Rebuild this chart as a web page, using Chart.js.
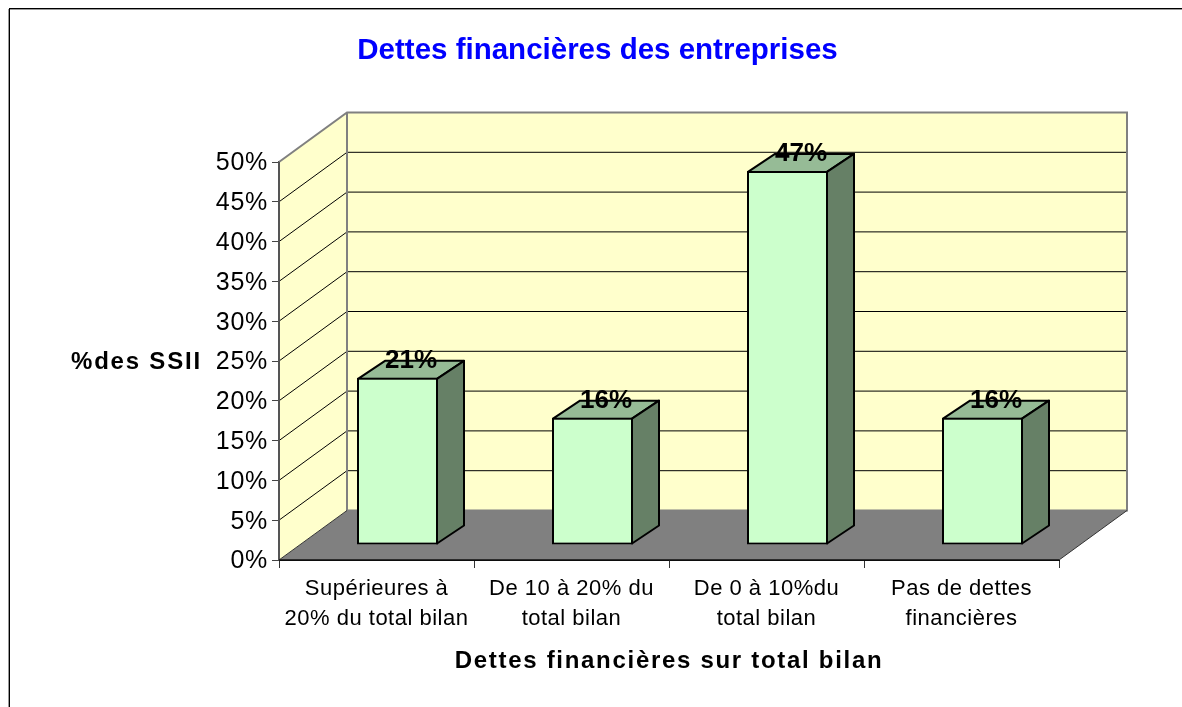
<!DOCTYPE html>
<html><head><meta charset="utf-8">
<script src="https://cdn.jsdelivr.net/npm/chart.js@4/dist/chart.umd.min.js"></script>
<style>html,body{margin:0;padding:0;background:#fff;overflow:hidden}canvas{display:block}</style>
</head><body><canvas id="c" width="1182" height="707"></canvas>
<script>
const categories=[["Supérieures à","20% du total bilan"],["De 10 à 20% du","total bilan"],["De 0 à 10%du","total bilan"],["Pas de dettes","financières"]];
const values=[21,16,47,16];
const yTicks=[0,5,10,15,20,25,30,35,40,45,50];
const titleText="Dettes financières des entreprises";
const xTitle="Dettes financières sur total bilan";
const yTitle="%des SSII";
const FF='"Liberation Sans",Arial,sans-serif';
const WALL_D=[68,-49.5], BAR_OFF=[21,-15], BAR_D=[27,-18];
const spaced=(s,name,sp,dy=0)=>{const f=s[name];s[name]=function(...a){const c=this.ctx;c.save();c.translate(0,dy);c.letterSpacing=sp;f.apply(this,a);c.letterSpacing='0px';c.restore();};};
const scene={id:'scene',
 afterLayout(ch){ch.titleBlock.left+=68;ch.titleBlock.right+=68;},
 beforeDraw(ch){
  const {x,y}=ch.scales;
  if(!x._sp){x._sp=true;spaced(x,'drawLabels','0.5px');spaced(x,'drawTitle','1.7px');spaced(y,'drawLabels','0.7px',1.5);}
 },
 beforeDatasetsDraw(ch){
  const {ctx,chartArea:a,scales:{y}}=ch;const [dx,dy]=WALL_D;
  const L=a.left,R=a.right,T=a.top,B=a.bottom;
  const poly=(pts,fill,stroke,w)=>{ctx.beginPath();pts.forEach((p,i)=>i?ctx.lineTo(p[0],p[1]):ctx.moveTo(p[0],p[1]));ctx.closePath();if(fill){ctx.fillStyle=fill;ctx.fill();}if(stroke){ctx.strokeStyle=stroke;ctx.lineWidth=w;ctx.stroke();}};
  ctx.save();
  poly([[L,B],[R,B],[R+dx,B+dy],[L+dx,B+dy]],'#808080');
  poly([[L,T],[L+dx,T+dy],[L+dx,B+dy],[L,B]],'#FFFFCC');
  poly([[L+dx,T+dy],[R+dx,T+dy],[R+dx,B+dy],[L+dx,B+dy]],'#FFFFCC');
  ctx.strokeStyle='#000';ctx.lineWidth=1;
  yTicks.forEach(v=>{if(v===0||v===50)return;const p=y.getPixelForValue(v);
    ctx.beginPath();ctx.moveTo(L,p);ctx.lineTo(L+dx,p+dy);ctx.lineTo(R+dx,p+dy);ctx.stroke();});
  ctx.strokeStyle='#808080';ctx.lineWidth=2;
  ctx.beginPath();ctx.moveTo(L,T);ctx.lineTo(L+dx,T+dy);ctx.lineTo(R+dx,T+dy);ctx.lineTo(R+dx,B+dy);ctx.lineTo(L+dx,B+dy);ctx.lineTo(L+dx,T+dy);ctx.stroke();
  ctx.strokeStyle='#333';ctx.lineWidth=1;
  ctx.beginPath();ctx.moveTo(L,B);ctx.lineTo(L+dx,B+dy);ctx.moveTo(R,B);ctx.lineTo(R+dx,B+dy);ctx.stroke();
  ctx.strokeStyle='#555';ctx.lineWidth=2;
  ctx.beginPath();ctx.moveTo(L,T);ctx.lineTo(L,B);ctx.stroke();
  ctx.strokeStyle='#111';ctx.lineWidth=1.5;
  ctx.beginPath();ctx.moveTo(L,B);ctx.lineTo(R,B);ctx.stroke();
  ctx.restore();
  ctx.save();ctx.translate(BAR_OFF[0],BAR_OFF[1]);
  ch.getDatasetMeta(0).data.forEach(el=>{
    const l=el.x-el.width/2+1,r=el.x+el.width/2-1,t=el.y+1,b=el.base-1,[bx,by]=BAR_D;
    ctx.lineJoin='round';
    poly([[l,t],[r,t],[r+bx,t+by],[l+bx,t+by]],'#96BB96','#000',2);
    poly([[r,t],[r+bx,t+by],[r+bx,b+by],[r,b]],'#668066','#000',2);
  });
 },
 afterDatasetsDraw(ch){
  const {ctx}=ch;
  ctx.restore();
  ctx.save();
  ctx.fillStyle='#000';ctx.textAlign='center';ctx.textBaseline='middle';
  ctx.font='bold 26px '+FF;
  ch.getDatasetMeta(0).data.forEach((el,i)=>{
    ctx.fillText(values[i]+'%',el.x+BAR_OFF[0]+BAR_D[0]/2,el.y+BAR_OFF[1]+BAR_D[1]/2-8);
  });
  ctx.font='bold 24px '+FF;
  ctx.letterSpacing='1.8px';
  ctx.textAlign='left';
  ctx.fillText(yTitle,71,362.5);
  ctx.letterSpacing='0px';
  ctx.fillStyle='#000';ctx.fillRect(9,8,1173,1);ctx.fillRect(9,8,1,699);
  ctx.fillStyle='#999';ctx.fillRect(10,9,1172,1);ctx.fillRect(8,9,1,698);
  ctx.restore();
 }};
new Chart(document.getElementById('c'),{
 type:'bar',
 data:{labels:categories,datasets:[{data:values,backgroundColor:'#CCFFCC',borderColor:'#000',borderWidth:2,borderSkipped:false,barPercentage:81/195,categoryPercentage:1,clip:false}]},
 plugins:[scene],
 options:{responsive:false,animation:false,events:[],
  layout:{autoPadding:false,padding:{left:0,right:123,top:0,bottom:0}},
  plugins:{legend:{display:false},tooltip:{enabled:false},
   title:{display:true,text:titleText,color:'#0000FF',font:{family:FF,size:29.5,weight:'bold'},padding:{top:33,bottom:93.6}}},
  scales:{
   x:{offset:true,grid:{offset:true,drawOnChartArea:false,drawTicks:true,tickLength:8,color:'#333'},border:{color:'#000',width:1},
      ticks:{color:'#000',font:{family:FF,size:22,lineHeight:1.36},maxRotation:0,autoSkip:false,padding:6},
      title:{display:true,text:xTitle,color:'#000',font:{family:FF,size:24,weight:'bold'},padding:{top:12,bottom:31}},
      afterFit(s){s.height=147;}},
   y:{min:0,max:50,grid:{drawOnChartArea:false,tickLength:7,color:'#444'},border:{color:'#444',width:2},
      ticks:{stepSize:5,color:'#000',font:{family:FF,size:25},padding:4,callback:v=>v+'%'},
      afterFit(s){s.width=279;}}
  }}
});
</script></body></html>
